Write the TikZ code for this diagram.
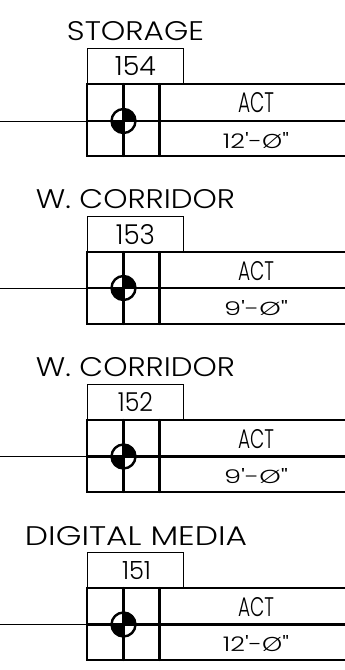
\documentclass[tikz,border=0pt]{standalone}
\usepackage{fontspec}
\setmainfont{Poppins Light}[Ligatures=TeXOff]
\usetikzlibrary{calc}
\tikzset{
  thinline/.style={line width=1pt,draw=black},
  gridline/.style={line width=2.2pt,draw=black,line cap=round},
  lbl/.style={inner sep=0pt,outer sep=0pt,text=black},
  tagbox/.style={thinline,fill=white,inner sep=0pt,outer sep=0pt,minimum width=96pt},
}
% name, x1, x2, y1, y2, text
\newcommand\fitlabel[6]{%
  \node[lbl] (#1) at ({(#2+#3)/2},{(#4+#5)/2}) {\resizebox{\fpeval{#3-#2}pt}{\fpeval{#5-#4}pt}{#6}};}
% id, tag top, grid top, mid, bottom
\newcommand\fixture[5]{%
  \node[tagbox,anchor=north west,minimum height=\fpeval{#3-#2}pt] (tag#1) at (87.5,#2) {};
  \coordinate (lead#1) at (0,#4);
  \coordinate (cell#1) at (87,#4);
  \coordinate (end#1) at (345,#4);
  \draw[thinline] (lead#1) -- (cell#1);
  \draw[gridline] (345,#3) -- (87,#3) -- (87,#5) -- (345,#5);
  \draw[gridline] (cell#1) -- (end#1);
  \draw[gridline] (123.5,#3) -- (123.5,#5);
  \draw[gridline] (159.5,#3) -- (159.5,#5);
  \fill[black] (123.5,#4) -- (111.5,#4) arc[start angle=180,end angle=270,radius=12pt] -- cycle;
  \fill[black] (123.5,#4) -- (135.5,#4) arc[start angle=0,end angle=90,radius=12pt] -- cycle;
  \draw[line width=2.4pt,black] (123.5,#4) circle[radius=12pt];
}
\begin{document}
\begin{tikzpicture}[x=1pt,y=-1pt]
\useasboundingbox (0,0) rectangle (345,670);
\fixture{154}{48.5}{84}{121}{156}
\fixture{153}{216.5}{252}{288}{324}
\fixture{152}{384.5}{420}{456.5}{492}
\fixture{151}{552.5}{588}{624.5}{660}
\fitlabel{t154}{67}{204}{22}{41}{STORAGE}
\fitlabel{t153}{36}{235}{190}{209}{W. CORRIDOR}
\fitlabel{t152}{36}{235}{358}{377}{W. CORRIDOR}
\fitlabel{t151}{25}{247}{527}{546}{DIGITAL MEDIA}
\fitlabel{n154}{115}{156}{57}{76}{154}
\fitlabel{n153}{116}{155}{225}{245}{153}
\fitlabel{n152}{118}{153}{393}{412}{152}
\fitlabel{n151}{122}{151}{562}{580}{151}
\fitlabel{a154}{238}{274}{93}{113}{ACT}
\fitlabel{a153}{238}{274}{262}{281}{ACT}
\fitlabel{a152}{238}{274}{430}{449}{ACT}
\fitlabel{a151}{238}{274}{598}{617}{ACT}
\fitlabel{h154}{223}{289}{133}{149}{12'-Ø"}
\fitlabel{h153}{224}{288}{301}{316}{9'-Ø"}
\fitlabel{h152}{224}{288}{469}{484}{9'-Ø"}
\fitlabel{h151}{223}{289}{636}{652}{12'-Ø"}
\end{tikzpicture}
\end{document}
